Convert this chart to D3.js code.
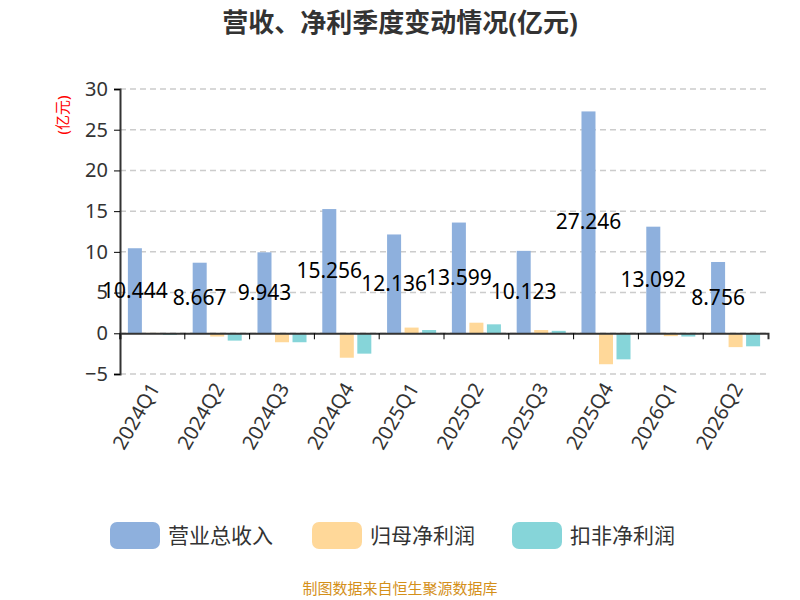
<!DOCTYPE html><html><head><meta charset="utf-8"><script src="https://cdn.jsdelivr.net/npm/d3@7"></script>
<style>body{margin:0;background:#fff}text{font-family:"Noto Sans","Noto Sans CJK SC",sans-serif}</style></head><body><svg id="c" width="800" height="600"></svg><script>
const categories=["2024Q1","2024Q2","2024Q3","2024Q4","2025Q1","2025Q2","2025Q3","2025Q4","2026Q1","2026Q2"];
const revenue=[10.444,8.667,9.943,15.256,12.136,13.599,10.123,27.246,13.092,8.756];
const netProfit=[0.05,-0.4,-1.1,-3.0,0.7,1.3,0.4,-3.8,-0.35,-1.7];
const deductProfit=[-0.2,-0.9,-1.1,-2.5,0.4,1.1,0.3,-3.2,-0.4,-1.6];
const yTicks=[-5,0,5,10,15,20,25,30];
const seriesNames=["营业总收入","归母净利润","扣非净利润"];
const colors=["#8eb0dd","#ffd899","#86d5d9"];
const svg=d3.select("#c");
const x=d3.scaleBand().domain(categories).range([120,768]);
const y=d3.scaleLinear().domain([-5,30]).range([374,89]);
svg.append("text").attr("x",400).attr("y",32).attr("text-anchor","middle").attr("font-size",26).attr("font-weight","bold").attr("fill","#333").attr("font-family","Noto Sans CJK SC").text("营收、净利季度变动情况(亿元)");
svg.append("g").selectAll("line").data(yTicks).join("line").attr("x1",120).attr("x2",768).attr("y1",d=>y(d)).attr("y2",d=>y(d)).attr("stroke","#ccc").attr("stroke-dasharray","6,4").attr("stroke-width",1.5);
const ya=svg.append("g").attr("transform","translate(120,0)").call(d3.axisLeft(y).tickValues(yTicks).tickSize(6).tickPadding(6));
ya.select(".domain").attr("stroke","#333").attr("stroke-width",2);
ya.selectAll("text").attr("font-size",20).attr("fill","#333");
svg.append("text").attr("transform","translate(68,115) rotate(-90)").attr("text-anchor","middle").attr("font-size",15).attr("fill","red").attr("font-family","Noto Sans CJK SC").text("(亿元)");
const inner=d3.scaleBand().domain([0,1,2]).range([0,x.bandwidth()]).paddingInner(0.2).paddingOuter(0.45);
const data=[revenue,netProfit,deductProfit];
data.forEach((arr,s)=>{
 svg.append("g").selectAll("rect").data(arr).join("rect")
 .attr("x",(d,i)=>x(categories[i])+inner(s)).attr("width",inner.bandwidth())
 .attr("y",d=>y(Math.max(0,d))).attr("height",d=>Math.abs(y(d)-y(0))).attr("fill",colors[s]);
});
const xa=svg.append("g").attr("transform",`translate(0,${y(0)})`).call(d3.axisBottom(x).tickSize(6).tickFormat(""));
xa.selectAll(".tick").attr("transform",d=>`translate(${x(d)},0)`);
xa.select(".domain").attr("stroke","#333").attr("stroke-width",2);
svg.append("g").selectAll("text").data(categories).join("text")
 .attr("transform",d=>`translate(${x(d)+x.bandwidth()/2+8},${y(-5)+14}) rotate(-60)`)
 .attr("text-anchor","end").attr("font-size",20).attr("fill","#333").text(d=>d);
svg.append("g").selectAll("text").data(revenue).join("text")
 .attr("x",(d,i)=>x(categories[i])+inner(0)+inner.bandwidth()/2).attr("y",d=>(y(d)+y(0))/2+7)
 .attr("text-anchor","middle").attr("font-size",21).attr("fill","#000").text(d=>d);
const lx=[110,312,512];
seriesNames.forEach((n,i)=>{
 svg.append("rect").attr("x",lx[i]).attr("y",522).attr("width",50).attr("height",27).attr("rx",7).attr("fill",colors[i]);
 svg.append("text").attr("x",lx[i]+58).attr("y",543).attr("font-size",21).attr("fill","#333").attr("font-family","Noto Sans CJK SC").text(n);
});
svg.append("text").attr("x",400).attr("y",594).attr("text-anchor","middle").attr("font-size",15).attr("fill","#d4901a").attr("font-family","Noto Sans CJK SC").text("制图数据来自恒生聚源数据库");
</script></body></html>
